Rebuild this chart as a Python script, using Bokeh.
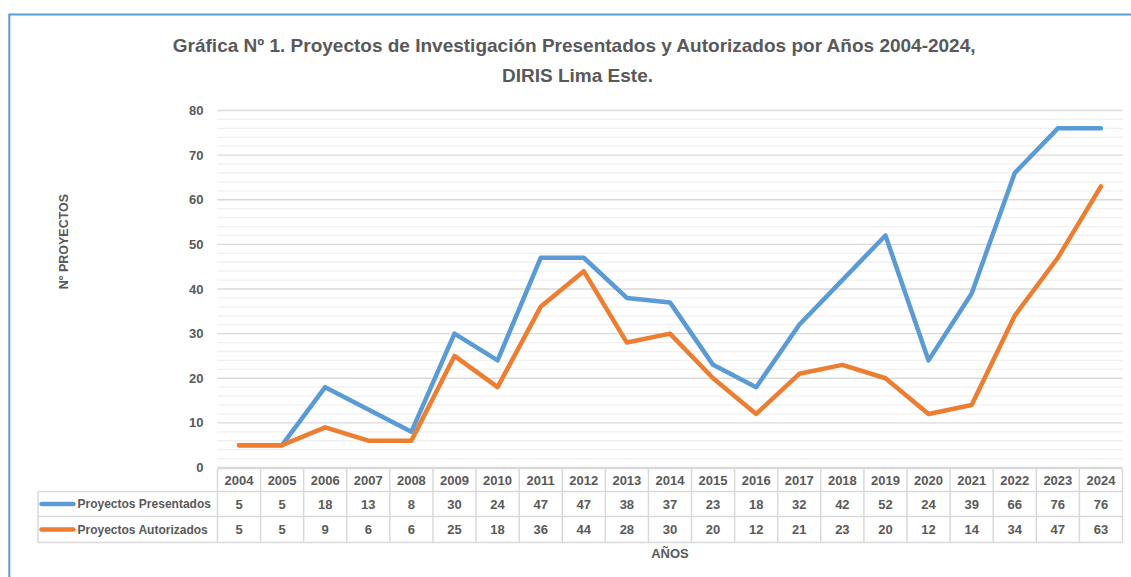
from bokeh.plotting import figure
from bokeh.models import Range1d, ColumnDataSource
from bokeh.core.properties import value
from bokeh.embed import file_html
from bokeh.resources import INLINE

# ---- data ----
years = ["2004", "2005", "2006", "2007", "2008", "2009", "2010", "2011", "2012", "2013",
         "2014", "2015", "2016", "2017", "2018", "2019", "2020", "2021", "2022", "2023", "2024"]
presentados = [5, 5, 18, 13, 8, 30, 24, 47, 47, 38, 37, 23, 18, 32, 42, 52, 24, 39, 66, 76, 76]
autorizados = [5, 5, 9, 6, 6, 25, 18, 36, 44, 28, 30, 20, 12, 21, 23, 20, 12, 14, 34, 47, 63]
series_names = ["Proyectos Presentados", "Proyectos Autorizados"]
y_ticks = [0, 10, 20, 30, 40, 50, 60, 70, 80]
y_minor = [v for v in range(2, 80, 2) if v % 10 != 0]
title_lines = ["Gráfica Nº 1.  Proyectos de Investigación Presentados y Autorizados por Años 2004-2024,",
               "DIRIS Lima Este."]
y_title = "Nº PROYECTOS"
x_title = "AÑOS"

# ---- layout (pixels) ----
W, H = 1131, 577
COL_W = 43.097                # px per category
X0_PX = 238.5                 # px of first category centre
Y0_PX = 467.0                 # px of y = 0
PX_PER_Y = 4.4625             # px per y unit

x_start = -X0_PX / COL_W
x_end = (W - X0_PX) / COL_W
y_end = Y0_PX / PX_PER_Y
y_start = -(H - Y0_PX) / PX_PER_Y


def X(px):
    return (px - X0_PX) / COL_W


def Y(py):
    return (Y0_PX - py) / PX_PER_Y


BLUE = "#5B9BD5"
ORANGE = "#ED7D31"
TXT = "#595959"
GRID = "#D9D9D9"
MINOR = "#F0F0F0"
FONT = value("Liberation Sans")

p = figure(width=W, height=H, output_backend="svg", toolbar_location=None,
           x_range=Range1d(x_start, x_end), y_range=Range1d(y_start, y_end),
           min_border=0, min_border_left=0, min_border_right=0,
           min_border_top=0, min_border_bottom=0)
p.axis.visible = False
p.grid.visible = False
p.outline_line_color = None
p.background_fill_color = "white"
p.border_fill_color = "white"

n = len(years)
xi = list(range(n))
left_edge, right_edge = -0.5, n - 0.5

# chart border (top + left)
p.segment(x0=[X(8), X(8.8)], y0=[Y(14), Y(14)], x1=[x_end, X(8.8)], y1=[Y(14), y_start],
          line_color=BLUE, line_width=2)

# gridlines
p.segment(x0=[left_edge] * len(y_minor), x1=[right_edge] * len(y_minor), y0=y_minor, y1=y_minor,
          line_color=MINOR, line_width=1.3)
p.segment(x0=[left_edge] * len(y_ticks), x1=[right_edge] * len(y_ticks), y0=y_ticks, y1=y_ticks,
          line_color=GRID, line_width=1.3)

# y tick labels
p.text(x=[X(203)] * len(y_ticks), y=y_ticks, text=[str(v) for v in y_ticks],
       text_font=FONT, text_font_style="bold", text_font_size="13px",
       text_color=TXT, text_align="right", text_baseline="middle")

# y axis title
p.text(x=[X(63)], y=[Y(241)], text=[y_title], angle=1.5707963,
       text_font=FONT, text_font_style="bold", text_font_size="12.5px",
       text_color=TXT, text_align="center", text_baseline="middle")

# title
p.text(x=[X(577), X(577)], y=[Y(45), Y(75)], text=title_lines,
       text_font=FONT, text_font_style="bold", text_font_size="19px",
       text_color=TXT, text_align="center", text_baseline="middle")

# data table
r_top, r1, r2, r_bot = Y(468), Y(491), Y(516), Y(542)
vx = [i - 0.5 for i in range(n + 1)]
p.segment(x0=vx, x1=vx, y0=[r_top] * len(vx), y1=[r_bot] * len(vx), line_color=GRID, line_width=1.5)
lx = X(37.5)
p.segment(x0=[lx, lx, lx, left_edge], x1=[right_edge, right_edge, right_edge, right_edge],
          y0=[r1, r2, r_bot, r_top], y1=[r1, r2, r_bot, r_top], line_color=GRID, line_width=1.5)
p.segment(x0=[lx], x1=[lx], y0=[r1], y1=[r_bot], line_color=GRID, line_width=1.5)

hy, y1c, y2c = (r_top + r1) / 2, (r1 + r2) / 2, (r2 + r_bot) / 2
p.text(x=xi, y=[hy] * n, text=years, text_font=FONT, text_font_style="bold",
       text_font_size="13px", text_color=TXT, text_align="center", text_baseline="middle")
p.text(x=xi, y=[y1c] * n, text=[str(v) for v in presentados], text_font=FONT,
       text_font_style="bold", text_font_size="13px", text_color=TXT,
       text_align="center", text_baseline="middle")
p.text(x=xi, y=[y2c] * n, text=[str(v) for v in autorizados], text_font=FONT,
       text_font_style="bold", text_font_size="13px", text_color=TXT,
       text_align="center", text_baseline="middle")

# legend keys in table
p.segment(x0=[X(41), X(41)], x1=[X(73), X(73)], y0=[y1c, y2c], y1=[y1c, y2c],
          line_color=[BLUE, ORANGE], line_width=4.5, line_cap="round")
p.text(x=[X(77), X(77)], y=[y1c, y2c], text=series_names, text_font=FONT,
       text_font_style="bold", text_font_size="12px", text_color=TXT,
       text_align="left", text_baseline="middle")

# x axis title
p.text(x=[(left_edge + right_edge) / 2], y=[Y(553)], text=[x_title], text_font=FONT,
       text_font_style="bold", text_font_size="13px", text_color=TXT,
       text_align="center", text_baseline="middle")

# data lines
src = ColumnDataSource(dict(x=xi, pres=presentados, aut=autorizados))
p.line("x", "pres", source=src, line_color=BLUE, line_width=4.5,
       line_join="round", line_cap="round")
p.line("x", "aut", source=src, line_color=ORANGE, line_width=4.5,
       line_join="round", line_cap="round")

open("out.html", "w").write(file_html(p, INLINE))
